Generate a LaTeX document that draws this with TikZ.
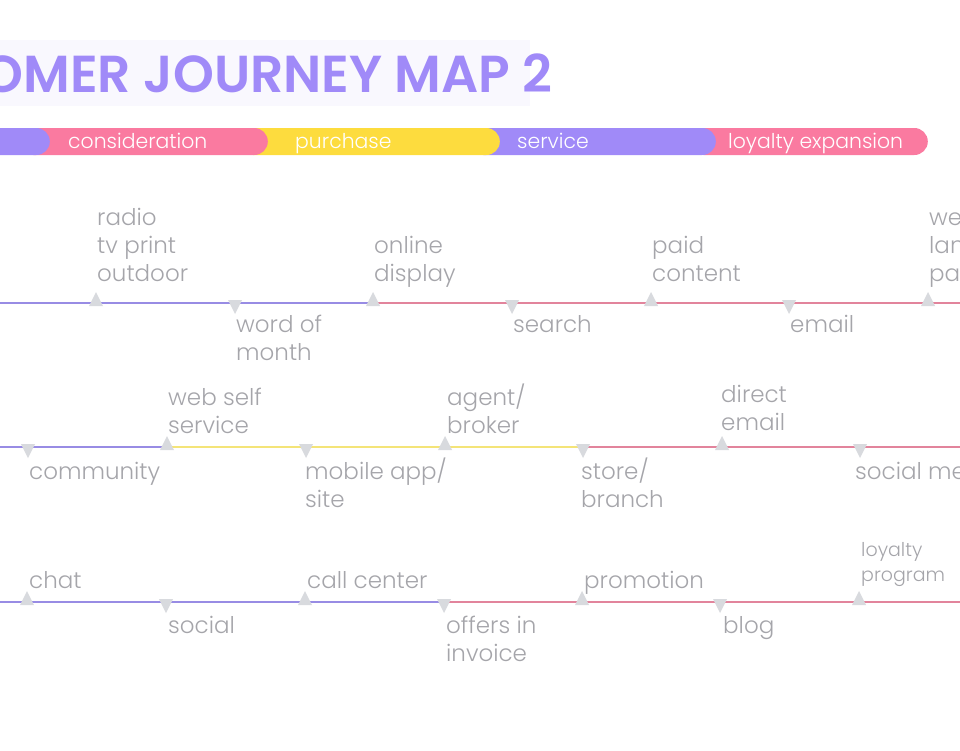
\documentclass[tikz,border=0pt]{standalone}
\usepackage{fontspec}
\setmainfont{Poppins}[UprightFont=* Light, BoldFont=* SemiBold]
\definecolor{jmpurple}{RGB}{160,138,248}
\definecolor{jmpink}{RGB}{250,122,160}
\definecolor{jmyellow}{RGB}{253,220,62}
\definecolor{lnpurple}{RGB}{152,140,228}
\definecolor{lnpink}{RGB}{226,132,156}
\definecolor{lnyellow}{RGB}{244,228,120}
\definecolor{jmgrey}{RGB}{165,165,170}
\definecolor{jmmark}{RGB}{216,218,222}
\definecolor{jmtitlebg}{RGB}{249,248,254}
\tikzset{
  stagebar/.style={rounded corners=13.5pt, minimum height=27pt, inner sep=0pt, draw=none},
  stagetext/.style={text=white, font=\fontsize{20.4}{24}\selectfont, inner sep=0pt, anchor=base west},
  touchtext/.style={text=jmgrey, font=\fontsize{23}{28}\selectfont, align=left, inner sep=0pt, anchor=base west},
  pathline/.style={line width=2pt},
}
\begin{document}
\begin{tikzpicture}[x=1pt,y=1pt,yscale=-1,xscale=1]
\useasboundingbox (0,0) rectangle (960,750);
\clip (0,0) rectangle (960,750);

% Title
\fill[jmtitlebg] (-10,40) rectangle (530,106);
\node[text=jmpurple, font=\fontsize{52}{56}\selectfont\bfseries, inner sep=0pt, anchor=base east] (title) at (553,92) {CUSTOMER JOURNEY MAP 2};

% Stage bar
\node[stagebar, fill=jmpink, minimum width=238pt, anchor=east] (loyalty) at (928,141.5) {};
\node[stagebar, fill=jmpurple, minimum width=246pt, anchor=east] (service) at (716,141.5) {};
\node[stagebar, fill=jmyellow, minimum width=260pt, anchor=east] (purchase) at (500,141.5) {};
\node[stagebar, fill=jmpink, minimum width=248pt, anchor=east] (consideration) at (268,141.5) {};
\node[stagebar, fill=jmpurple, minimum width=80pt, anchor=east] (awareness) at (50,141.5) {};
\node[stagetext] (t2) at (68,148) {consideration};
\node[stagetext] (t3) at (295,148) {purchase};
\node[stagetext] (t4) at (517,148) {service};
\node[stagetext] (t5) at (728,148) {loyalty expansion};

% Row 1
\coordinate (a0) at (0,303);
\coordinate (a8) at (960,303);
\foreach \x [count=\i] in {96,235,373,512,651,789,928}
  \coordinate (a\i) at (\x,303);
\draw[pathline, lnpurple] (a0) -- (a3);
\draw[pathline, lnpink] (a3) -- (a8);
\foreach \x/\s in {96/-1,235/1,373/-1,512/1,651/-1,789/1,928/-1}
  \fill[jmmark] (\x-7,{303-3*(\s)}) -- (\x+7,{303-3*(\s)}) -- (\x,{303+11*(\s)}) -- cycle;

% Row 2
\coordinate (b0) at (0,447);
\coordinate (b8) at (960,447);
\foreach \x [count=\i] in {28,167,306,445,583,722,860}
  \coordinate (b\i) at (\x,447);
\draw[pathline, lnpurple] (b0) -- (b2);
\draw[pathline, lnyellow] (b2) -- (b5);
\draw[pathline, lnpink] (b5) -- (b8);
\foreach \x/\s in {28/1,167/-1,306/1,445/-1,583/1,722/-1,860/1}
  \fill[jmmark] (\x-7,{447-3*(\s)}) -- (\x+7,{447-3*(\s)}) -- (\x,{447+11*(\s)}) -- cycle;

% Row 3
\coordinate (c0) at (0,602);
\coordinate (c8) at (960,602);
\foreach \x [count=\i] in {27,166,305,444,582,720,859}
  \coordinate (c\i) at (\x,602);
\draw[pathline, lnpurple] (c0) -- (c4);
\draw[pathline, lnpink] (c4) -- (c8);
\foreach \x/\s in {27/-1,166/1,305/-1,444/1,582/-1,720/1,859/-1}
  \fill[jmmark] (\x-7,{602-3*(\s)}) -- (\x+7,{602-3*(\s)}) -- (\x,{602+11*(\s)}) -- cycle;

% Text Node
\node[touchtext] (radio) at (97,281) {radio\\tv print\\outdoor};
\node[touchtext] (word) at (236,360) {word of\\month};
\node[touchtext] (online) at (374,281) {online\\display};
\node[touchtext] (search) at (513,332) {search};
\node[touchtext] (paid) at (652,281) {paid\\content};
\node[touchtext] (email) at (790,332) {email};
\node[touchtext] (web) at (929,281) {web\\landing\\page};
% Text Node
\node[touchtext] (community) at (29,479) {community};
\node[touchtext] (selfservice) at (168,433) {web self\\service};
\node[touchtext] (mobile) at (305,507) {mobile app/\\site};
\node[touchtext] (agent) at (447,433) {agent/\\broker};
\node[touchtext] (store) at (581,507) {store/\\branch};
\node[touchtext] (direct) at (721,430) {direct\\email};
\node[touchtext] (socialmedia) at (855,479) {social media};
% Text Node
\node[touchtext] (chat) at (29,588) {chat};
\node[touchtext] (social) at (168,633) {social};
\node[touchtext] (callcenter) at (307,588) {call center};
\node[touchtext] (offers) at (446,661) {offers in\\invoice};
\node[touchtext] (promotion) at (584,588) {promotion};
\node[touchtext] (blog) at (723,633) {blog};
\node[touchtext, font=\fontsize{19}{25}\selectfont] (loyaltyprog) at (861,581) {loyalty\\program};

\end{tikzpicture}
\end{document}
